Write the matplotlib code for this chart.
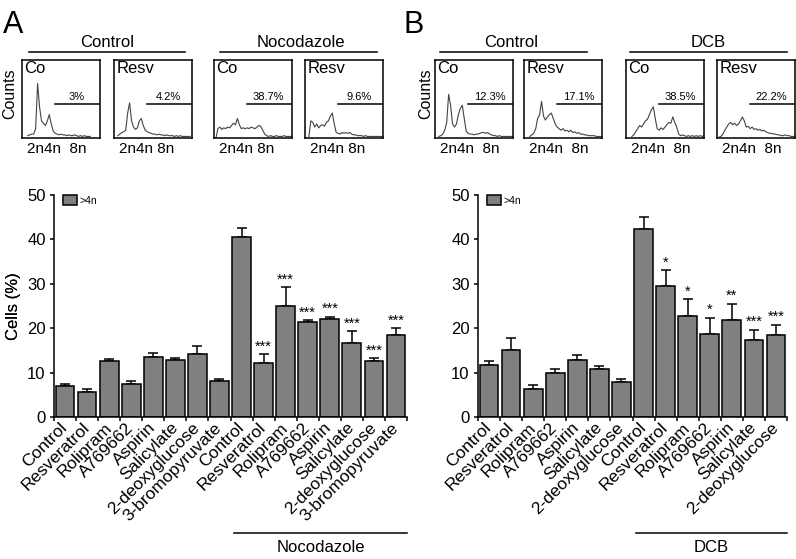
import numpy as np
import matplotlib.pyplot as plt
from matplotlib.transforms import blended_transform_factory

plt.rcParams['font.family'] = ['Liberation Sans', 'DejaVu Sans']

W, H = 796, 559

# ---- bar chart data (% cells >4n) ----
drugs_a = ['Control', 'Resveratrol', 'Rolipram', 'A769662', 'Aspirin',
           'Salicylate', '2-deoxyglucose', '3-bromopyruvate']
labels_a = drugs_a + drugs_a
mean_a = [6.9, 5.7, 12.6, 7.4, 13.6, 12.8, 14.3, 8.0,
          40.6, 12.2, 25.0, 21.4, 22.1, 16.6, 12.7, 18.5]
err_a = [0.5, 0.7, 0.4, 0.7, 0.9, 0.5, 1.8, 0.5,
         1.9, 2.0, 4.3, 0.4, 0.5, 2.8, 0.6, 1.5]
stars_a = [''] * 9 + ['***'] * 7

drugs_b = ['Control', 'Resveratrol', 'Rolipram', 'A769662', 'Aspirin',
           'Salicylate', '2-deoxyglucose']
labels_b = drugs_b + drugs_b
mean_b = [11.8, 15.0, 6.3, 10.0, 12.9, 10.7, 7.9,
          42.4, 29.4, 22.8, 18.7, 21.9, 17.3, 18.5]
err_b = [0.9, 2.8, 0.8, 0.8, 1.1, 0.8, 0.7,
         2.7, 3.7, 3.8, 3.7, 3.6, 2.4, 2.3]
stars_b = [''] * 8 + ['*', '*', '*', '**', '***', '***']

# ---- flow cytometry histograms (counts, fraction of box height) ----
channel = np.arange(0, 1001, 25)
hist_a_co = [None, None, None, .03, .04, .05, .05, .12, .70, .40,
             .22, .19, .16, .22, .30, .18, .09, .06, .05, .04,
             .05, .04, .04, .03, .04, .03, .03, .04, .03, .02,
             .03, .02, .03, .02, .02, .02, None, None, None, None, None]
hist_a_resv = [None, None, .03, .05, .07, .08, .10, .32, .45, .22,
               .14, .11, .13, .22, .25, .16, .10, .08, .07, .06,
               .05, .05, .04, .05, .04, .04, .03, .04, .03, .03,
               .03, .02, .03, .02, .03, .02, .02, .02, .02, .02, None]
hist_a_noc_co = [None, 0.0, .12, .14, .11, .13, .12, .14, .13, .16,
                 .19, .17, .25, .17, .12, .13, .12, .13, .12, .14,
                 .13, .12, .14, .16, .15, .10, .05, .03, .02, .03,
                 .02, .02, .03, .02, .02, .02, .03, .02, .02, .02, .02]
hist_a_noc_resv = [None, None, .02, .22, .20, .14, .18, .13, .16, .17,
                   .15, .20, .22, .28, .32, .18, .07, .06, .05, .07,
                   .06, .07, .06, .07, .05, .04, .04, .03, .03, .03,
                   .02, .03, .02, .02, .02, .02, .02, .02, .02, .02, .02]
hist_b_co = [None, None, .02, .03, .05, .10, .20, .56, .42, .18,
             .14, .18, .30, .38, .42, .25, .09, .06, .05, .05,
             .04, .05, .05, .06, .07, .07, .06, .07, .05, .04,
             .03, .03, .02, .03, .02, .02, .02, .02, .02, .02, .02]
hist_b_resv = [None, None, None, .02, .04, .06, .12, .25, .30, .47,
               .28, .23, .27, .30, .32, .25, .18, .14, .12, .10,
               .12, .09, .10, .08, .10, .07, .08, .06, .07, .05,
               .05, .04, .04, .03, .03, .03, .03, .02, .02, .02, .02]
hist_b_dcb_co = [None, None, None, .02, .04, .08, .12, .16, .14, .18,
                 .22, .24, .30, .36, .40, .25, .12, .10, .13, .11,
                 .14, .17, .20, .19, .27, .20, .14, .05, .03, .04,
                 .03, .02, .03, .02, .03, .02, .03, .02, .03, .02, .03]
hist_b_dcb_resv = [None, .01, .02, .05, .10, .14, .18, .20, .17, .19,
                   .16, .18, .22, .27, .22, .14, .15, .12, .14, .11,
                   .12, .10, .11, .09, .10, .08, .07, .06, .06, .05,
                   .05, .04, .04, .03, .03, .04, .03, .03, .02, .02, .02]

hist_names = ['Co', 'Resv', 'Co', 'Resv', 'Co', 'Resv', 'Co', 'Resv']
hist_pcts = ['3%', '4.2%', '38.7%', '9.6%', '12.3%', '17.1%', '38.5%', '22.2%']
hist_data = [hist_a_co, hist_a_resv, hist_a_noc_co, hist_a_noc_resv,
             hist_b_co, hist_b_resv, hist_b_dcb_co, hist_b_dcb_resv]
ploidy_txt = ['2n4n  8n', '2n4n 8n', '2n4n 8n', '2n4n 8n',
              '2n4n  8n', '2n4n  8n', '2n4n  8n', '2n4n  8n']
gate_start = 420

fig = plt.figure(figsize=(W / 100, H / 100), dpi=100)


def px_axes(l, t, w, h):
    return fig.add_axes([l / W, 1 - (t + h) / H, w / W, h / H])


def fig_text(x, y, s, **kw):
    fig.text(x / W, 1 - y / H, s, **kw)


def fig_line(x0, x1, y):
    fig.add_artist(plt.Line2D([x0 / W, x1 / W], [1 - y / H, 1 - y / H],
                              color='black', lw=1.1))


# histogram boxes
box_lefts = [22, 114, 214, 305, 435, 524, 626, 717]
for i, left in enumerate(box_lefts):
    ax = px_axes(left, 60, 78, 78)
    ys = np.array(hist_data[i], dtype=float)
    ax.plot(channel, ys, color='#444444', lw=0.8)
    ax.plot([gate_start, 1000], [0.44, 0.44], color='black', lw=1.1)
    ax.set_xlim(0, 1000)
    ax.set_ylim(0, 1)
    ax.set_xticks([])
    ax.set_yticks([])
    for sp in ax.spines.values():
        sp.set_linewidth(1.1)
    ax.text(0.03, 0.99, hist_names[i], transform=ax.transAxes,
            ha='left', va='top', fontsize=12)
    ax.text(0.70, 0.53, hist_pcts[i], transform=ax.transAxes,
            ha='center', va='center', fontsize=8)
    ax.text(0.07, -0.05, ploidy_txt[i], transform=ax.transAxes,
            ha='left', va='top', fontsize=11)

# group titles above histograms
fig_text(107, 47.5, 'Control', ha='center', va='baseline', fontsize=12)
fig_text(301, 47.5, 'Nocodazole', ha='center', va='baseline', fontsize=12)
fig_text(511, 47.5, 'Control', ha='center', va='baseline', fontsize=12)
fig_text(708, 47.5, 'DCB', ha='center', va='baseline', fontsize=12)
fig_line(29, 185, 52)
fig_line(220, 377, 52)
fig_line(440, 587, 52)
fig_line(630, 787, 52)
fig_text(10, 94, 'Counts', rotation=90, ha='center', va='center', fontsize=11.5)
fig_text(426, 94, 'Counts', rotation=90, ha='center', va='center', fontsize=11.5)

# panel letters
fig_text(3, 33, 'A', ha='left', va='baseline', fontsize=22)
fig_text(403, 33, 'B', ha='left', va='baseline', fontsize=22)


def bar_panel(left, width, labels, means, errs, stars, group, group_start):
    ax = px_axes(left, 195, width, 222)
    n = len(means)
    x = np.arange(n)
    bars = ax.bar(x, means, width=0.85, color='#808080', edgecolor='black',
                  linewidth=1.1, zorder=2)
    ax.errorbar(x, means, yerr=[np.zeros(n), errs], fmt='none', ecolor='black',
                elinewidth=1.1, capsize=3.6, capthick=1.1, zorder=1)
    for xi, m, e, s in zip(x, means, errs, stars):
        if s:
            ax.text(xi, m + e + 1.7, s, ha='center', va='center', fontsize=10.5)
    ax.set_xlim(-0.5, n - 0.5)
    ax.set_ylim(0, 50)
    ax.set_yticks(range(0, 51, 10))
    ax.spines['top'].set_visible(False)
    ax.spines['right'].set_visible(False)
    ax.spines['left'].set_linewidth(1.1)
    ax.spines['bottom'].set_linewidth(1.1)
    ax.tick_params(axis='y', direction='out', length=3, width=1.1,
                   labelsize=12, pad=3)
    ax.set_xticks(x)
    ax.set_xticklabels(labels)
    ax.set_xticks(np.arange(-0.5, n, 1), minor=True)
    ax.tick_params(axis='x', which='major', length=0, labelsize=12.5, pad=6)
    ax.tick_params(axis='x', which='minor', direction='out', length=3, width=1.1)
    plt.setp(ax.get_xticklabels(), rotation=45, ha='right', va='center',
             rotation_mode='anchor')
    ax.set_ylabel('Cells (%)', fontsize=12)
    ax.yaxis.set_label_coords((21 - left) / width, 0.5)
    ax.legend([bars], ['>4n'], loc='upper left',
              bbox_to_anchor=(9 / width, 1.0),
              frameon=False, handlelength=1.3, handleheight=1.1,
              handletextpad=0.3, fontsize=7.5, borderaxespad=0, borderpad=0)
    # treatment group bracket under the labels
    tr = blended_transform_factory(ax.transData, ax.transAxes)
    x0, x1 = group_start - 0.35, n - 0.5
    ax.plot([x0, x1], [-0.5225, -0.5225], color='black', lw=1.1,
            transform=tr, clip_on=False)
    ax.text((x0 + x1) / 2, -0.59, group, transform=tr, ha='center',
            va='center', fontsize=12)
    return ax


bar_panel(54, 353, labels_a, mean_a, err_a, stars_a, 'Nocodazole', 8)
bar_panel(478, 309, labels_b, mean_b, err_b, stars_b, 'DCB', 7)

fig.savefig('out.png', dpi=100)
